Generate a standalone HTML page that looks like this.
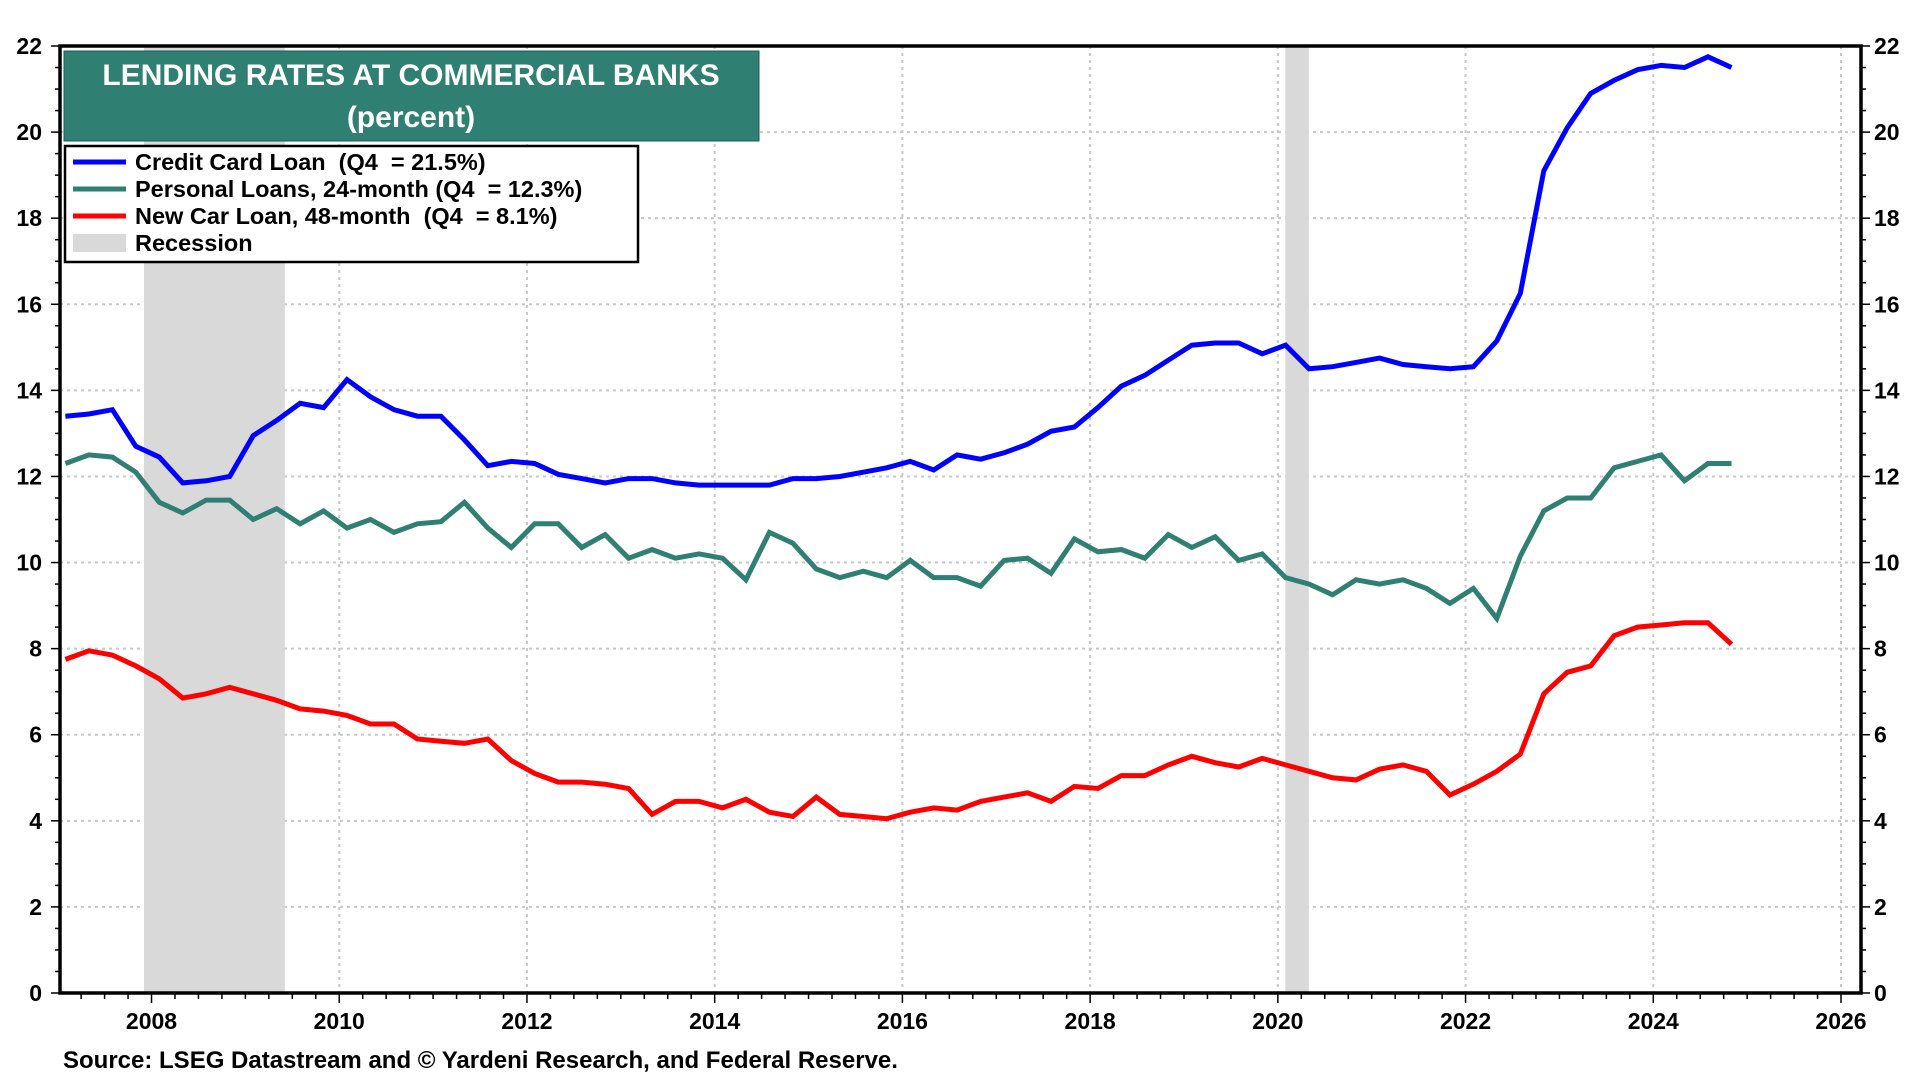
<!DOCTYPE html>
<html><head><meta charset="utf-8"><style>
html,body{margin:0;padding:0;background:#fff;}
svg{display:block;font-family:"Liberation Sans",Arial,sans-serif;}
text{white-space:pre;}
</style></head><body>
<svg id="chart" width="1920" height="1080" viewBox="0 0 1920 1080" xml:space="preserve">
<g id="grid"></g>
<g id="rec"></g>
<g id="series"></g>
<g id="axes"></g>
<g>
<rect x="64" y="51" width="695" height="90" fill="#2f7f73" stroke="#1f5a52" stroke-width="1"/>
<text x="411" y="85" text-anchor="middle" fill="#fff" font-weight="bold" font-size="30">LENDING RATES AT COMMERCIAL BANKS</text>
<text x="411" y="127" text-anchor="middle" fill="#fff" font-weight="bold" font-size="30">(percent)</text>
</g>
<g>
<rect x="65" y="146" width="573" height="116" fill="#fff" stroke="#000" stroke-width="2.5"/>
<g><line x1="73" y1="162" x2="126" y2="162" stroke="#0000ff" stroke-width="5"/><text x="135" y="170" font-size="23.5" font-weight="bold">Credit Card Loan  (Q4  = 21.5%)</text></g>
<g><line x1="73" y1="189" x2="126" y2="189" stroke="#2f7f73" stroke-width="5"/><text x="135" y="197" font-size="23.5" font-weight="bold">Personal Loans, 24-month (Q4  = 12.3%)</text></g>
<g><line x1="73" y1="216" x2="126" y2="216" stroke="#ff0000" stroke-width="5"/><text x="135" y="224" font-size="23.5" font-weight="bold">New Car Loan, 48-month  (Q4  = 8.1%)</text></g>
<g><rect x="73" y="234" width="53" height="18" fill="#d9d9d9"/><text x="135" y="251" font-size="23.5" font-weight="bold">Recession</text></g>
</g>
<text x="63" y="1068" font-size="24" font-weight="bold">Source: LSEG Datastream and © Yardeni Research, and Federal Reserve.</text>
</svg>
<script>
const creditCard=[13.4,13.45,13.55,12.7, 12.45,11.85,11.9,12.0, 12.95,13.3,13.7,13.6, 14.25,13.85,13.55,13.4, 13.4,12.85,12.25,12.35, 12.3,12.05,11.95,11.85, 11.95,11.95,11.85,11.8, 11.8,11.8,11.8,11.95, 11.95,12.0,12.1,12.2, 12.35,12.15,12.5,12.4, 12.55,12.75,13.05,13.15, 13.6,14.1,14.35,14.7, 15.05,15.1,15.1,14.85, 15.05,14.5,14.55,14.65, 14.75,14.6,14.55,14.5, 14.55,15.15,16.25,19.1, 20.1,20.9,21.2,21.45, 21.55,21.5,21.75,21.5];
const personal=[12.3,12.5,12.45,12.1, 11.4,11.15,11.45,11.45, 11.0,11.25,10.9,11.2, 10.8,11.0,10.7,10.9, 10.95,11.4,10.8,10.35, 10.9,10.9,10.35,10.65, 10.1,10.3,10.1,10.2, 10.1,9.6,10.7,10.45, 9.85,9.65,9.8,9.65, 10.05,9.65,9.65,9.45, 10.05,10.1,9.75,10.55, 10.25,10.3,10.1,10.65, 10.35,10.6,10.05,10.2, 9.65,9.5,9.25,9.6, 9.5,9.6,9.4,9.05, 9.4,8.7,10.15,11.2, 11.5,11.5,12.2,12.35, 12.5,11.9,12.3,12.3];
const newCar=[7.75,7.95,7.85,7.6, 7.3,6.85,6.95,7.1, 6.95,6.8,6.6,6.55, 6.45,6.25,6.25,5.9, 5.85,5.8,5.9,5.4, 5.1,4.9,4.9,4.85, 4.75,4.15,4.45,4.45, 4.3,4.5,4.2,4.1, 4.55,4.15,4.1,4.05, 4.2,4.3,4.25,4.45, 4.55,4.65,4.45,4.8, 4.75,5.05,5.05,5.3, 5.5,5.35,5.25,5.45, 5.3,5.15,5.0,4.95, 5.2,5.3,5.15,4.6, 4.85,5.15,5.55,6.95, 7.45,7.6,8.3,8.5, 8.55,8.6,8.6,8.1];
const startYear=2007;
const recessions=[[2007.92,2009.42],[2020.08,2020.33]];
const yTicks=[0,2,4,6,8,10,12,14,16,18,20,22];
const xTicks=[2008,2010,2012,2014,2016,2018,2020,2022,2024,2026];

const L=60,R=1861,T=46,B=993;
const X0=2007.025,X1=2026.213,Y0=0,Y1=22;
const xs=v=>L+(v-X0)/(X1-X0)*(R-L);
const ys=v=>B-(v-Y0)/(Y1-Y0)*(B-T);
const NS='http://www.w3.org/2000/svg';
function mk(tag,attrs,parent){const e=document.createElementNS(NS,tag);for(const k in attrs)e.setAttribute(k,attrs[k]);parent.appendChild(e);return e;}
const grid=document.getElementById('grid'),rec=document.getElementById('rec'),ser=document.getElementById('series'),axes=document.getElementById('axes');

yTicks.forEach(v=>{if(v>0&&v<22){const l=mk('line',{x1:L,x2:R,y1:ys(v),y2:ys(v),stroke:'#c8c8c8','stroke-width':2,'stroke-dasharray':'3,4'},grid);

}});
xTicks.forEach(v=>{const l=mk('line',{x1:xs(v),x2:xs(v),y1:T,y2:B,stroke:'#c8c8c8','stroke-width':2,'stroke-dasharray':'3,4'},grid);

});

recessions.forEach(r=>{const e=mk('rect',{x:xs(r[0]),y:T,width:xs(r[1])-xs(r[0]),height:B-T,fill:'#d9d9d9'},rec);

});

function line(data,color,name){
  const pts=data.map((v,i)=>xs(startYear+i*0.25+0.083).toFixed(1)+','+ys(v).toFixed(1)).join(' ');
  const p=mk('polyline',{points:pts,fill:'none',stroke:color,'stroke-width':5,'stroke-linejoin':'miter'},ser);
  
  
}
line(newCar,'#ff0000','new-car-loan-line');
line(personal,'#2f7f73','personal-loans-line');
line(creditCard,'#0000ff','credit-card-line');

const fr=mk('rect',{x:L,y:T,width:R-L,height:B-T,fill:'none',stroke:'#000','stroke-width':3.5},axes);


for(let v=0;v<=22;v+=0.5){const major=v%2===0;const len=major?9:5;
  mk('line',{x1:L-len,x2:L,y1:ys(v),y2:ys(v),stroke:'#000','stroke-width':1.5},axes);
  mk('line',{x1:R,x2:R+len,y1:ys(v),y2:ys(v),stroke:'#000','stroke-width':1.5},axes);}
yTicks.forEach(v=>{
  const a=mk('text',{x:42,y:ys(v)+8,'text-anchor':'end','font-size':23,'font-weight':'bold'},axes);a.textContent=v;
  
  
  const b=mk('text',{x:1874,y:ys(v)+8,'text-anchor':'start','font-size':23,'font-weight':'bold'},axes);b.textContent=v;
  
  
});
for(let q=2007.25;q<=2026.2;q+=0.25){const major=Math.abs(q-Math.round(q))<0.01&&Math.round(q)%2===0;
  mk('line',{x1:xs(q),x2:xs(q),y1:B,y2:B+(major?10:6),stroke:'#000','stroke-width':1.5},axes);}
xTicks.forEach(v=>{const t=mk('text',{x:xs(v),y:1029,'text-anchor':'middle','font-size':23,'font-weight':'bold'},axes);t.textContent=v;
  
  });
</script>
</body></html>
